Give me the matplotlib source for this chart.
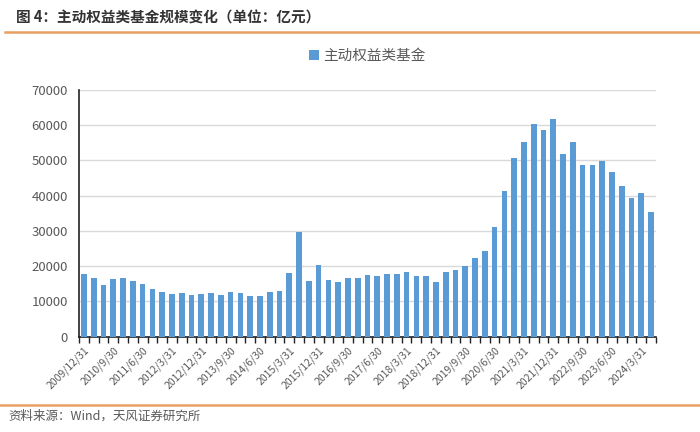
import matplotlib.pyplot as plt
import numpy as np

plt.rcParams['font.family'] = ['Noto Sans CJK SC', 'DejaVu Sans']

# 季度末日期 2009/12/31 - 2024/6/30
quarters = []
for y in range(2009, 2025):
    for md in ['3/31', '6/30', '9/30', '12/31']:
        quarters.append(f'{y}/{md}')
quarters = quarters[quarters.index('2009/12/31'):quarters.index('2024/6/30') + 1]

# 主动权益类基金规模（亿元）
scale = [17700, 16600, 14500, 16300, 16600, 15700, 15000, 13500, 12500, 12200,
         12400, 11800, 12100, 12300, 11700, 12600, 12300, 11400, 11600, 12500,
         12900, 17900, 29700, 15700, 20400, 15900, 15600, 16600, 16700, 17500,
         17300, 17800, 17800, 18400, 17300, 17300, 15400, 18400, 18900, 20000,
         22200, 24300, 31100, 41400, 50600, 55100, 60300, 58500, 61700, 51900,
         55100, 48600, 48800, 49900, 46700, 42700, 39400, 40700, 35300]

bar_color = '#5B9BD5'
line_color = '#E8A064'
text_gray = '#595959'

fig = plt.figure(figsize=(7, 4.32), dpi=100)
ax = fig.add_axes([0.113, 0.221, 0.824, 0.571])

x = np.arange(len(scale))
ax.bar(x, scale, width=0.58, color=bar_color, label='主动权益类基金', zorder=3)

ax.set_xlim(-0.5, len(scale) - 0.5)
ax.set_ylim(0, 70000)
ax.set_yticks(range(0, 70001, 10000))
ax.yaxis.grid(True, color='#D9D9D9', linewidth=1, zorder=0)
ax.tick_params(axis='y', length=0, labelsize=9.5, labelcolor=text_gray, pad=8)

ax.set_xticks(x[::3])
ax.set_xticklabels(quarters[::3], rotation=45, ha='right', rotation_mode='anchor',
                   fontsize=7.5, color=text_gray)
ax.tick_params(axis='x', which='major', length=0, pad=6)
ax.set_xticks(np.arange(-0.5, len(scale)), minor=True)
ax.tick_params(axis='x', which='minor', length=4, width=1, color='#222222', direction='out')

for s in ['top', 'right']:
    ax.spines[s].set_visible(False)
ax.spines['left'].set_color('#222222')
ax.spines['bottom'].set_color('#222222')
ax.spines['left'].set_linewidth(1.2)
ax.spines['bottom'].set_linewidth(1.2)

ax.legend(loc='lower center', bbox_to_anchor=(0.5, 1.055), frameon=False,
          fontsize=10.5, handlelength=0.7, handleheight=0.7, handletextpad=0.3,
          labelcolor=text_gray)

fig.text(0.023, 0.96, '图 4：主动权益类基金规模变化（单位：亿元）', fontsize=10.5,
         fontweight='bold', color='#333333', va='center')
fig.add_artist(plt.Line2D([0.007, 1.0], [0.925, 0.925], color=line_color, linewidth=1.8))
fig.add_artist(plt.Line2D([0.0, 1.0], [0.062, 0.062], color=line_color, linewidth=1.8))
fig.text(0.012, 0.037, '资料来源：Wind，天风证券研究所', fontsize=9,
         color=text_gray, va='center')

fig.savefig('out.png', dpi=100)
